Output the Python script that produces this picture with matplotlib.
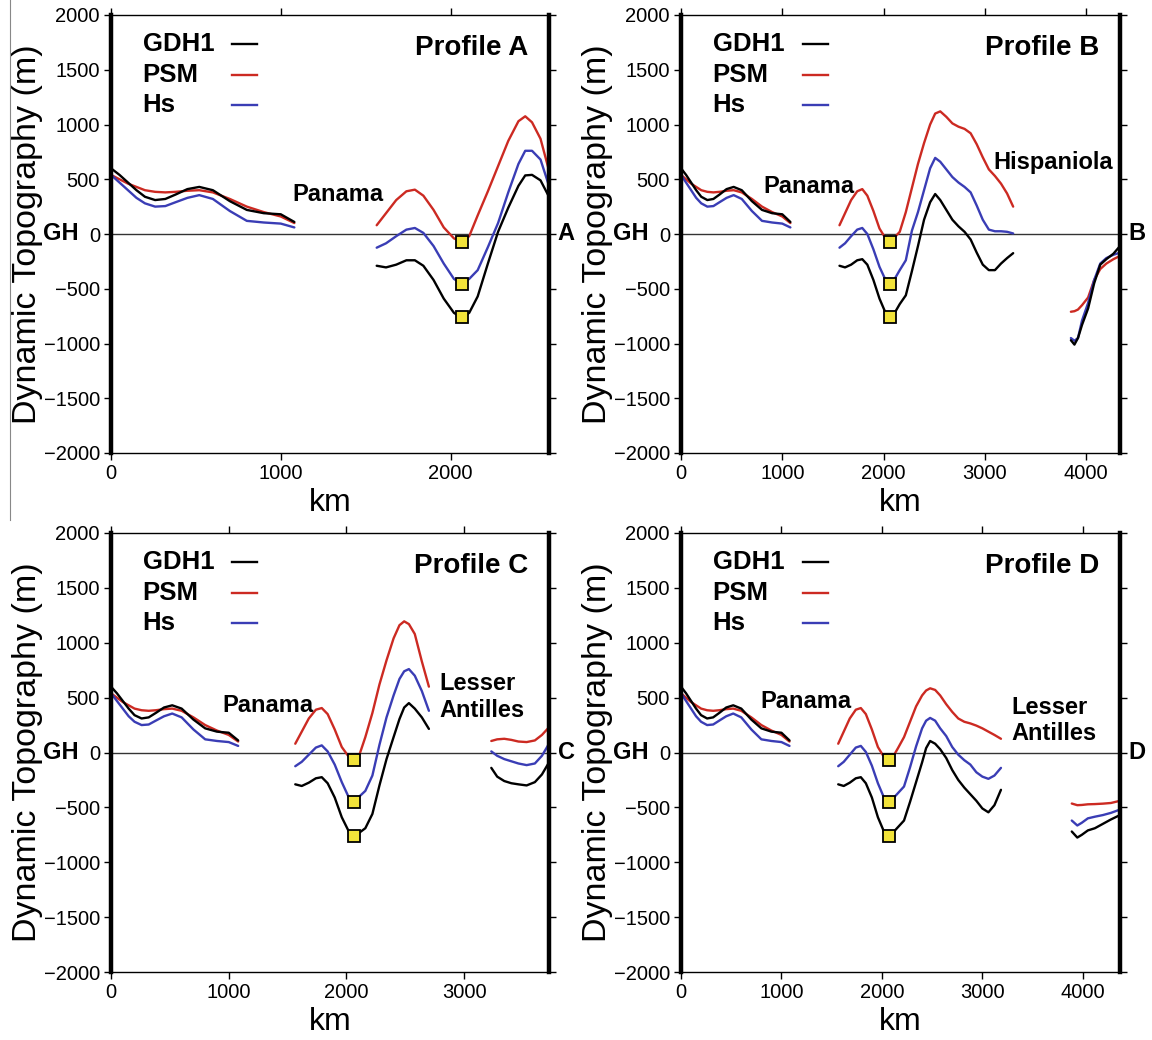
# dynamic topography profiles A-D
import numpy as np
import matplotlib.pyplot as plt

plt.rcParams['font.family'] = ['Liberation Sans', 'DejaVu Sans']

RED = '#cc2a22'
BLUE = '#3a3db5'

# segment shared by every profile (0 - 1080 km)
seg1_x = [0, 50, 100, 150, 200, 260, 320, 380, 450, 520, 600, 700, 800, 900, 1000, 1080]
seg1_gdh1 = [600, 540, 470, 400, 340, 310, 320, 360, 410, 430, 400, 300, 220, 190, 180, 110]
seg1_psm = [540, 500, 460, 430, 400, 385, 380, 385, 395, 400, 380, 320, 250, 200, 160, 100]
seg1_hs = [540, 470, 400, 330, 280, 250, 255, 290, 330, 355, 320, 210, 120, 105, 95, 60]

# profile A
a2_x = [1565, 1620, 1680, 1740, 1790, 1840, 1900, 1960, 2020, 2066, 2110, 2160, 2220,
        2280, 2340, 2400, 2440, 2480, 2530, 2580]
a2_psm = [80, 190, 310, 390, 405, 350, 220, 60, -40, -70, -20, 170, 390, 620, 850, 1030,
          1075, 1020, 870, 580]
a2_hs = [-125, -85, -20, 40, 55, 10, -110, -270, -410, -455, -410, -330, -120, 100, 380,
         640, 760, 760, 680, 440]
a2_gdh1 = [-290, -305, -280, -240, -240, -290, -420, -590, -720, -765, -720, -570, -270,
           20, 240, 440, 535, 540, 490, 340]

# profile B
b2_x = [1565, 1620, 1680, 1740, 1790, 1840, 1900, 1960, 2020, 2066, 2110, 2160, 2220,
        2280, 2340, 2400, 2460, 2510, 2560, 2620, 2680, 2740, 2800, 2860, 2920, 2980,
        3040, 3100, 3160, 3220, 3280]
b2_psm = [80, 190, 310, 390, 410, 350, 210, 50, -40, -70, -30, 20, 200, 420, 640, 830,
          1000, 1100, 1120, 1070, 1010, 980, 960, 920, 820, 700, 590, 530, 460, 370, 250]
b2_hs = [-125, -85, -20, 40, 55, 0, -140, -300, -420, -455, -410, -330, -240, 30, 200,
         400, 600, 695, 660, 590, 520, 470, 430, 380, 260, 130, 40, 25, 25, 20, 5]
b2_gdh1 = [-290, -305, -280, -240, -230, -280, -420, -590, -720, -765, -720, -640, -560,
           -340, -110, 130, 290, 365, 310, 220, 130, 70, 20, -50, -170, -280, -330, -330,
           -270, -220, -175]
b3_x = [3850, 3885, 3920, 3960, 4020, 4080, 4140, 4200, 4270, 4335]
b3_psm = [-710, -705, -690, -650, -580, -420, -320, -270, -230, -200]
b3_hs = [-950, -975, -950, -790, -630, -420, -270, -220, -190, -170]
b3_gdh1 = [-970, -1010, -950, -830, -680, -450, -280, -230, -180, -110]

# profile C
c2_x = [1565, 1620, 1680, 1740, 1790, 1840, 1900, 1960, 2020, 2066, 2110, 2160, 2220,
        2280, 2340, 2400, 2450, 2490, 2530, 2580, 2640, 2700]
c2_psm = [80, 190, 310, 390, 405, 350, 210, 50, -40, -65, -20, 140, 360, 620, 840, 1040,
          1160, 1195, 1170, 1080, 830, 600]
c2_hs = [-125, -85, -20, 45, 65, 10, -110, -270, -410, -450, -400, -350, -210, 70, 320,
         520, 670, 740, 760, 700, 560, 380]
c2_gdh1 = [-290, -305, -275, -235, -225, -280, -410, -590, -720, -760, -730, -690, -560,
           -300, -60, 140, 305, 410, 450, 400, 320, 215]
c3_x = [3230, 3280, 3340, 3400, 3460, 3530, 3600, 3660, 3720]
c3_psm = [105, 120, 125, 115, 100, 95, 110, 160, 230]
c3_hs = [10, -30, -60, -80, -100, -115, -100, -30, 80]
c3_gdh1 = [-140, -220, -260, -280, -290, -300, -270, -200, -90]

# profile D
d2_x = [1565, 1620, 1680, 1740, 1790, 1840, 1900, 1960, 2020, 2066, 2110, 2160, 2220,
        2280, 2340, 2400, 2440, 2480, 2530, 2580, 2640, 2700, 2760, 2820, 2880, 2940,
        3000, 3060, 3120, 3185]
d2_psm = [80, 190, 310, 390, 405, 350, 210, 50, -40, -70, -40, 40, 140, 280, 420, 520,
          565, 585, 570, 520, 440, 370, 310, 280, 265, 245, 220, 190, 160, 125]
d2_hs = [-125, -85, -20, 45, 60, 5, -120, -280, -410, -450, -420, -370, -310, -135, 55,
         220, 290, 315, 290, 220, 150, 50, -20, -70, -110, -180, -220, -240, -210, -140]
d2_gdh1 = [-290, -305, -275, -235, -225, -280, -410, -590, -720, -760, -730, -680, -620,
           -450, -270, -90, 40, 105, 80, 30, -50, -160, -250, -320, -380, -440, -510,
           -545, -480, -340]
d3_x = [3890, 3945, 3990, 4050, 4120, 4200, 4280, 4370]
d3_psm = [-465, -480, -478, -472, -470, -466, -460, -440]
d3_hs = [-620, -665, -640, -600, -585, -570, -550, -520]
d3_gdh1 = [-720, -775, -750, -710, -690, -650, -610, -570]

# yellow squares at the trench minimum
sq_x = 2066
sq_y = [-70, -455, -760]

profiles = ['A', 'B', 'C', 'D']
xmax = [2580, 4335, 3720, 4370]
xticks = [[0, 1000, 2000], [0, 1000, 2000, 3000, 4000],
          [0, 1000, 2000, 3000], [0, 1000, 2000, 3000, 4000]]
segments = {
    'A': [(a2_x, a2_gdh1, a2_psm, a2_hs)],
    'B': [(b2_x, b2_gdh1, b2_psm, b2_hs), (b3_x, b3_gdh1, b3_psm, b3_hs)],
    'C': [(c2_x, c2_gdh1, c2_psm, c2_hs), (c3_x, c3_gdh1, c3_psm, c3_hs)],
    'D': [(d2_x, d2_gdh1, d2_psm, d2_hs), (d3_x, d3_gdh1, d3_psm, d3_hs)],
}
# place names: (text, x km, y m)
places = {
    'A': [('Panama', 1070, 360)],
    'B': [('Panama', 815, 436), ('Hispaniola', 3080, 655)],
    'C': [('Panama', 945, 427), ('Lesser\nAntilles', 2790, 506)],
    'D': [('Panama', 790, 463), ('Lesser\nAntilles', 3285, 290)],
}

fig = plt.figure(figsize=(11.52, 10.4), dpi=100)
boxes = [(111, 15, 549, 453), (681, 15, 1120, 453),
         (111, 533, 549, 972), (681, 533, 1120, 972)]

for i, p in enumerate(profiles):
    l, t, r, b = boxes[i]
    ax = fig.add_axes([l / 1152, 1 - b / 1040, (r - l) / 1152, (b - t) / 1040])
    ax.set_xlim(0, xmax[i])
    ax.set_ylim(-2000, 2000)

    ax.axhline(0, color='#333333', lw=1.0, zorder=1)

    lw = 1.7
    kw = dict(lw=lw, solid_joinstyle='round', solid_capstyle='round')
    ax.plot(seg1_x, seg1_psm, color=RED, **kw)
    ax.plot(seg1_x, seg1_hs, color=BLUE, **kw)
    ax.plot(seg1_x, seg1_gdh1, color='black', **kw)
    for sx, g, ps, hs in segments[p]:
        ax.plot(sx, ps, color=RED, **kw)
        ax.plot(sx, hs, color=BLUE, **kw)
        ax.plot(sx, g, color='black', **kw)
    ax.plot([sq_x] * 3, sq_y, ls='none', marker='s', ms=8.5, mfc='#f2e33a',
            mec='black', mew=1.3, zorder=5)

    # legend drawn by hand
    for name, col, yy in [('GDH1', 'black', 0.933), ('PSM', RED, 0.864), ('Hs', BLUE, 0.794)]:
        ax.text(0.072, yy, name, transform=ax.transAxes, fontsize=18.5,
                fontweight='bold', va='center', ha='left')
        ax.plot([0.277, 0.334], [yy, yy], transform=ax.transAxes, color=col, lw=1.7)

    ax.text(0.952, 0.925, 'Profile ' + p, transform=ax.transAxes, fontsize=20,
            fontweight='bold', va='center', ha='right')
    for txt, px, py in places[p]:
        ax.text(px, py, txt, fontsize=17, fontweight='bold', va='center', ha='left',
                linespacing=1.2)

    trans = ax.get_yaxis_transform()
    ax.text(-0.073, 0, 'GH', transform=trans, fontsize=17, fontweight='bold',
            va='center', ha='right')
    ax.text(1.02, 0, p, transform=trans, fontsize=17, fontweight='bold',
            va='center', ha='left')

    ax.set_xticks(xticks[i])
    ax.set_yticks(np.arange(-2000, 2001, 500))
    ax.tick_params(direction='out', length=5, width=1, labelsize=14.5, pad=3,
                   top=True, right=True, labelright=False, labeltop=False)
    ax.spines['left'].set_linewidth(3.2)
    ax.spines['right'].set_linewidth(3.2)
    ax.spines['top'].set_linewidth(1.0)
    ax.spines['bottom'].set_linewidth(1.0)

    ax.set_ylabel('Dynamic Topography (m)', fontsize=24.5, va='center')
    ax.yaxis.set_label_coords(-0.19, 0.5)
    ax.set_xlabel('km', fontsize=23, va='center')
    ax.xaxis.set_label_coords(0.5, -50 / 439)

# stray frame line at the left of the first panel
fig.add_artist(plt.Line2D([10 / 1152, 10 / 1152], [0.5, 1.0], color='#888888', lw=0.8))

plt.savefig('out.png', dpi=100)
